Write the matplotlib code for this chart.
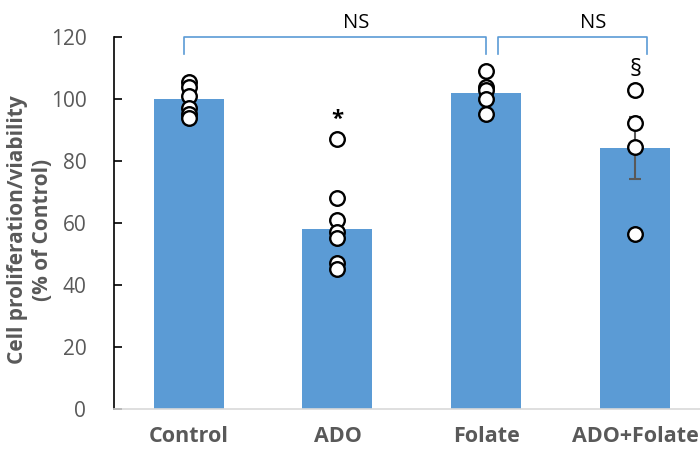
import numpy as np
import matplotlib.pyplot as plt

plt.rcParams['font.family'] = ['Open Sans', 'DejaVu Sans']

groups = ["Control", "ADO", "Folate", "ADO+Folate"]
means = [100, 58, 102, 84.2]
sem = [1.8, 4.0, 2.2, 10.0]
points = [
    [105.5, 104, 101, 97, 95, 94],
    [87, 68, 61, 57, 55, 47, 45],
    [109, 104, 103, 100, 95],
    [103, 92.3, 84.5, 56.5],
]
marks = {"ADO": "*", "ADO+Folate": "§"}
yticks = [0, 20, 40, 60, 80, 100, 120]

bar_color = "#5b9bd5"
grey = "#595959"

fig = plt.figure(figsize=(7, 4.61), dpi=100)
ax = fig.add_axes([0.163, 0.1128, 0.851, 0.807])

x = np.arange(len(groups))
ax.bar(x, means, width=0.47, color=bar_color, zorder=1)
ax.errorbar(x, means, yerr=sem, fmt="none", ecolor=grey, elinewidth=1.5,
            capsize=4.5, capthick=1.5, zorder=2)
for i, vals in enumerate(points):
    ax.plot([x[i]] * len(vals), vals, "o", ms=10.5, mfc="white", mec="black",
            mew=1.7, zorder=3, clip_on=False)

# significance marks above groups
for g, m in marks.items():
    i = groups.index(g)
    if m == "*":
        ax.text(x[i], 93.5, m, ha="center", va="center", fontsize=16, fontweight="bold")
    else:
        ax.text(x[i], 109.5, m, ha="center", va="center", fontsize=17)

# NS brackets
def bracket(x0, x1, label):
    ax.plot([x0, x0, x1, x1], [114.5, 120, 120, 114.5], color=bar_color,
            lw=1.2, clip_on=False, zorder=4)
    ax.text((x0 + x1) / 2 + 0.14, 124.5, label, ha="center", va="center",
            fontsize=14.5)

bracket(-0.03, 2.0, "NS")
bracket(2.08, 3.08, "NS")

ax.set_xlim(-0.5, 3.5)
ax.set_ylim(0, 120)
ax.set_yticks(yticks)
ax.set_xticks(x)
ax.set_xticklabels(groups, fontsize=15.5, fontweight="bold", color=grey)
ax.tick_params(axis="x", length=0, pad=12)
ax.tick_params(axis="y", direction="in", length=6, width=1.2, labelsize=15,
               labelcolor=grey, pad=20)

for s in ["top", "right"]:
    ax.spines[s].set_visible(False)
ax.spines["left"].set_color("black")
ax.spines["left"].set_linewidth(1.2)
ax.spines["bottom"].set_color("#d9d9d9")
ax.spines["bottom"].set_linewidth(1.2)

fig.text(30 / 700, 1 - 230 / 461, "Cell proliferation/viability\n(% of Control)",
         rotation=90, ha="center", va="center", multialignment="center",
         fontsize=15, fontweight="bold", color=grey, linespacing=1.3)

fig.savefig("out.png", dpi=100)
